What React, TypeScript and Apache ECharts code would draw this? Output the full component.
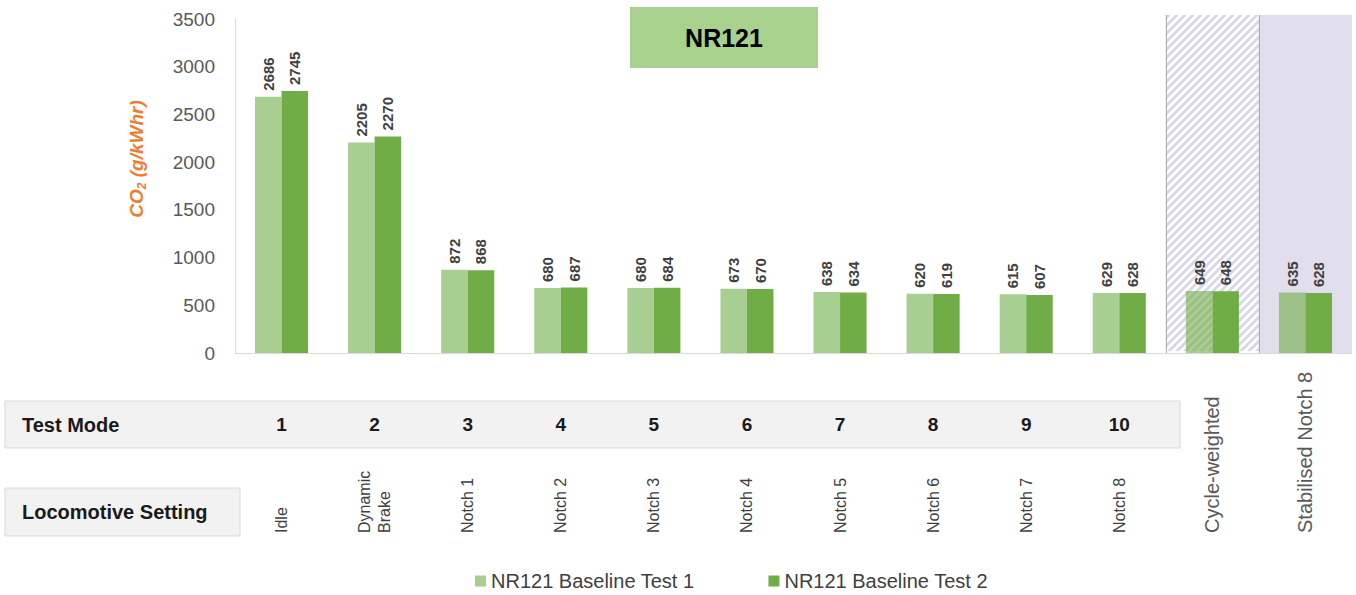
import React, { useEffect, useRef } from "react";
import * as echarts from "echarts";

const settings = [
  "Idle",
  "Dynamic\nBrake",
  "Notch 1",
  "Notch 2",
  "Notch 3",
  "Notch 4",
  "Notch 5",
  "Notch 6",
  "Notch 7",
  "Notch 8",
  "Cycle-weighted",
  "Stabilised Notch 8",
];
const testModes = ["1", "2", "3", "4", "5", "6", "7", "8", "9", "10", "", ""];
const test1 = [2686, 2205, 872, 680, 680, 673, 638, 620, 615, 629, 649, 635];
const test2 = [2745, 2270, 868, 687, 684, 670, 634, 619, 607, 628, 648, 628];
const seriesNames = ["NR121 Baseline Test 1", "NR121 Baseline Test 2"];
const zones = [
  ["Cycle-weighted", 0, "hatch"],
  ["Stabilised Notch 8", 0, "solid"],
];
const yTicks = { min: 0, max: 3500, interval: 500 };

function makeHatch(): string {
  const c = document.createElement("canvas");
  c.width = 8;
  c.height = 8;
  const ctx = c.getContext("2d")!;
  ctx.fillStyle = "#ffffff";
  ctx.fillRect(0, 0, 8, 8);
  ctx.strokeStyle = "#D8D6E8";
  ctx.lineWidth = 2.8;
  ctx.beginPath();
  ctx.moveTo(-2, 10);
  ctx.lineTo(10, -2);
  ctx.moveTo(-2, 2);
  ctx.lineTo(2, -2);
  ctx.moveTo(6, 10);
  ctx.lineTo(10, 6);
  ctx.stroke();
  return c.toDataURL();
}

export default function App() {
  const ref = useRef<HTMLDivElement>(null);
  useEffect(() => {
    document.body.style.margin = "0";
    const chart = echarts.init(ref.current!, null, { renderer: "svg" });
    const hatch = makeHatch();
    const font = "'Liberation Sans', Arial, sans-serif";
    const barLabel = {
      show: true,
      position: "top",
      rotate: 90,
      align: "left",
      verticalAlign: "middle",
      distance: 6,
      fontSize: 15,
      fontWeight: "bold",
      color: "#404040",
      fontFamily: font,
    };
    chart.setOption({
      animation: false,
      textStyle: { fontFamily: font },
      grid: { left: 235, right: 4, top: 19, bottom: 242 },
      legend: {
        data: seriesNames,
        left: 470,
        top: 566,
        icon: "rect",
        itemWidth: 11,
        itemHeight: 11,
        itemGap: 74,
        itemStyle: { borderWidth: 0 },
        textStyle: { fontSize: 20, color: "#404040", fontFamily: font },
      },
      xAxis: [
        {
          type: "category",
          data: settings,
          axisLine: { show: true, lineStyle: { color: "#D9D9D9", width: 1 } },
          axisTick: { show: false },
          axisLabel: {
            interval: 0,
            rotate: 90,
            align: "left",
            verticalAlign: "middle",
            margin: 180,
            fontSize: 16,
            color: "#404040",
            fontFamily: font,
            formatter: (v: string, i: number) =>
              i >= 10
                ? `{big|${v}}`
                : v
                    .split("\n")
                    .map((s) => `{n|${s}}`)
                    .join("\n"),
            rich: {
              big: { fontSize: 20, color: "#595959", fontFamily: font },
              n: { fontSize: 16, lineHeight: 20, color: "#404040", fontFamily: font },
            },
          },
        },
        {
          type: "category",
          data: testModes,
          position: "bottom",
          axisLine: { show: false },
          axisTick: { show: false },
          axisLabel: {
            interval: 0,
            margin: 71,
            verticalAlign: "middle",
            fontSize: 19,
            fontWeight: "bold",
            color: "#1a1a1a",
            fontFamily: font,
          },
        },
      ],
      yAxis: {
        type: "value",
        min: yTicks.min,
        max: yTicks.max,
        interval: yTicks.interval,
        axisLine: { show: true, lineStyle: { color: "#D9D9D9" } },
        axisTick: { show: false },
        splitLine: { show: false },
        axisLabel: {
          fontSize: 19,
          color: "#595959",
          margin: 20,
          fontFamily: font,
          formatter: (v: number) => String(v),
        },
      },
      series: [
        {
          type: "custom",
          xAxisIndex: 0,
          z: 1,
          silent: true,
          data: zones,
          encode: { x: 0, y: 1 },
          renderItem: (params: any, api: any) => {
            const idx = api.value(0);
            const kind = zones[params.dataIndex][2];
            const c = api.coord([idx, 0]);
            const bw = api.size([1, 0])[0];
            const cs = params.coordSys;
            const x0 = c[0] - bw / 2;
            const top = cs.y - 4;
            return {
              type: "group",
              children: [
                {
                  type: "rect",
                  shape: {
                    x: x0,
                    y: top,
                    width: bw,
                    height: cs.y + cs.height - top - (kind === "hatch" ? 2 : 0),
                  },
                  style:
                    kind === "hatch"
                      ? { fill: { image: hatch, repeat: "repeat" } }
                      : { fill: "#E1DFEC" },
                },
                {
                  type: "line",
                  shape: { x1: x0 + 0.5, y1: top, x2: x0 + 0.5, y2: cs.y + cs.height },
                  style: { stroke: "#A6A6A6", lineWidth: 1 },
                },
              ],
            };
          },
        },
        {
          name: seriesNames[0],
          type: "bar",
          xAxisIndex: 0,
          z: 3,
          data: test1,
          barGap: "0%",
          barCategoryGap: "43%",
          itemStyle: { color: "rgba(112,173,71,0.6)" },
          label: barLabel,
        },
        {
          name: seriesNames[1],
          type: "bar",
          xAxisIndex: 0,
          z: 3,
          data: test2,
          barGap: "0%",
          barCategoryGap: "43%",
          itemStyle: { color: "#70AD47" },
          label: barLabel,
        },
      ],
      graphic: [
        {
          type: "rect",
          z: -1,
          shape: { x: 5, y: 401, width: 1175, height: 47 },
          style: { fill: "#F2F2F2", stroke: "#D9D9D9", lineWidth: 1 },
        },
        {
          type: "rect",
          z: -1,
          shape: { x: 5, y: 488, width: 235, height: 48 },
          style: { fill: "#F2F2F2", stroke: "#D9D9D9", lineWidth: 1 },
        },
        {
          type: "text",
          x: 22,
          y: 425,
          style: {
            text: "Test Mode",
            fontSize: 20,
            fontWeight: "bold",
            fill: "#1a1a1a",
            fontFamily: font,
            textVerticalAlign: "middle",
          },
        },
        {
          type: "text",
          x: 22,
          y: 512,
          style: {
            text: "Locomotive Setting",
            fontSize: 20,
            fontWeight: "bold",
            fill: "#1a1a1a",
            fontFamily: font,
            textVerticalAlign: "middle",
          },
        },
        {
          type: "rect",
          shape: { x: 630, y: 7, width: 188, height: 61 },
          style: { fill: "#A9D18E" },
        },
        {
          type: "text",
          x: 724,
          y: 38,
          style: {
            text: "NR121",
            fontSize: 25,
            fontWeight: "bold",
            fill: "#000000",
            fontFamily: font,
            textAlign: "center",
            textVerticalAlign: "middle",
          },
        },
        {
          type: "text",
          x: 136,
          y: 159,
          rotation: Math.PI / 2,
          style: {
            text: "{a|CO}{b|2}{a| (g/kWhr)}",
            textAlign: "center",
            textVerticalAlign: "middle",
            rich: {
              a: {
                fontSize: 19,
                fontWeight: "bold",
                fontStyle: "italic",
                fill: "#ED7D31",
                fontFamily: font,
                lineHeight: 24,
                verticalAlign: "middle",
              },
              b: {
                fontSize: 12,
                fontWeight: "bold",
                fontStyle: "italic",
                fill: "#ED7D31",
                fontFamily: font,
                lineHeight: 24,
                verticalAlign: "bottom",
              },
            },
          },
        },
      ],
    });
    return () => chart.dispose();
  }, []);
  return <div ref={ref} style={{ width: 1356, height: 595 }} />;
}
